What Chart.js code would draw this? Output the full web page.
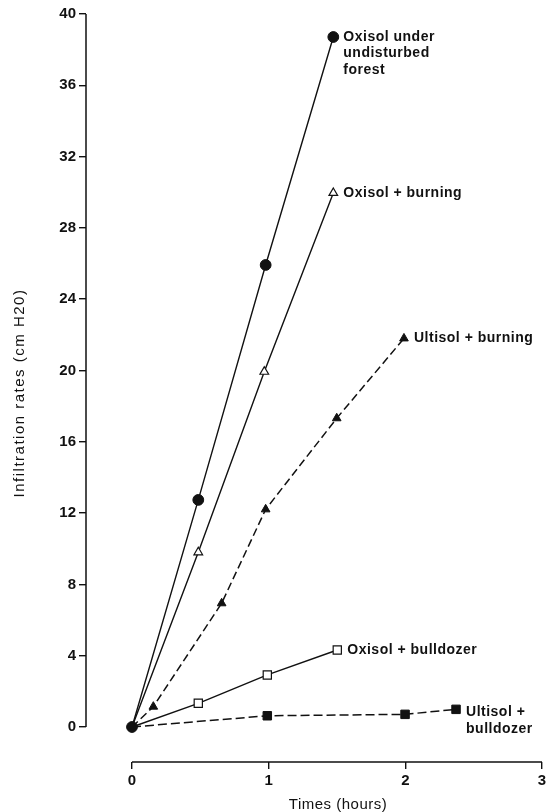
<!DOCTYPE html>
<html>
<head>
<meta charset="utf-8">
<script src="https://cdn.jsdelivr.net/npm/chart.js@4"></script>
<style>
  body { margin: 0; background: #fff; }
  canvas { display: block; }
</style>
</head>
<body>
<canvas id="chart" width="553" height="812"></canvas>
<script>
// values (time in hours, infiltration in cm H2O)
const forestX = [0, 0.485, 0.978, 1.473];
const forestY = [0, 12.74, 25.92, 38.71];
const oxBurnX = [0, 0.485, 0.968, 1.473];
const oxBurnY = [0, 9.80, 19.93, 29.96];
const ulBurnX = [0, 0.156, 0.656, 0.978, 1.498, 1.990];
const ulBurnY = [0, 1.14, 6.94, 12.21, 17.32, 21.80];
const oxDozX = [0, 0.485, 0.990, 1.502];
const oxDozY = [0, 1.33, 2.92, 4.32];
const ulDozX = [0, 0.990, 1.998, 2.371];
const ulDozY = [0, 0.63, 0.71, 0.99];

const xTicks = [0, 1, 2, 3];
const yTicks = [0, 4, 8, 12, 16, 20, 24, 28, 32, 36, 40];

const seriesLabels = [
    ['Oxisol under', 'undisturbed', 'forest'],
    ['Oxisol + burning'],
    ['Ultisol + burning'],
    ['Oxisol + bulldozer'],
    ['Ultisol +', 'bulldozer']
];

const xTitle = 'Times (hours)';
const yTitle = 'Infiltration rates (cm H20)';

const ink = '#111';
const FONT = '"Liberation Sans", Arial, Helvetica, sans-serif';

function toPoints(xs, ys) {
    return xs.map((x, i) => ({ x: x, y: ys[i] }));
}

// hide the marker at the shared origin for everything but the forest series
function skipOrigin(r) {
    return ctx => ctx.dataIndex === 0 ? 0 : r;
}

// axes in the figure are detached from the plot: draw the lines only over 0..3 / 0..40
const detachedAxes = {
    id: 'detachedAxes',
    afterDraw(chart) {
        const ctx = chart.ctx;
        const xs = chart.scales.x;
        const ys = chart.scales.y;
        const area = chart.chartArea;
        ctx.save();
        ctx.strokeStyle = ink;
        ctx.lineWidth = 1.5;
        ctx.beginPath();
        ctx.moveTo(area.left, ys.getPixelForValue(yTicks[0]));
        ctx.lineTo(area.left, ys.getPixelForValue(yTicks[yTicks.length - 1]));
        ctx.moveTo(xs.getPixelForValue(xTicks[0]), area.bottom);
        ctx.lineTo(xs.getPixelForValue(xTicks[xTicks.length - 1]), area.bottom);
        ctx.stroke();

        ctx.fillStyle = ink;

        // axis titles
        ctx.font = '15px ' + FONT;
        ctx.textAlign = 'center';
        ctx.textBaseline = 'middle';
        ctx.letterSpacing = '0.5px';
        const midX = (xs.getPixelForValue(xTicks[0]) + xs.getPixelForValue(xTicks[xTicks.length - 1])) / 2;
        ctx.fillText(xTitle, midX + 1, 805);

        ctx.save();
        ctx.translate(20, 393);
        ctx.rotate(-Math.PI / 2);
        ctx.letterSpacing = '1.5px';
        ctx.fillText(yTitle, 0, 0);
        ctx.restore();

        // end-of-line labels
        ctx.font = 'bold 14px ' + FONT;
        ctx.textAlign = 'left';
        ctx.letterSpacing = '0.5px';
        chart.data.datasets.forEach((ds, i) => {
            const last = ds.data[ds.data.length - 1];
            const px = xs.getPixelForValue(last.x) + 10;
            const py = ys.getPixelForValue(last.y);
            const lines = seriesLabels[i];
            const shift = lines.length === 2 ? 3 : 0;
            lines.forEach((t, k) => ctx.fillText(t, px, py + shift + k * 16.5));
        });
        ctx.restore();
    }
};

new Chart(document.getElementById('chart'), {
    type: 'scatter',
    data: {
        datasets: [
            {
                data: toPoints(forestX, forestY),
                showLine: true,
                borderColor: ink,
                borderWidth: 1.4,
                pointStyle: 'circle',
                pointRadius: 5.4,
                pointBackgroundColor: ink,
                pointBorderColor: ink,
                pointBorderWidth: 1
            },
            {
                data: toPoints(oxBurnX, oxBurnY),
                showLine: true,
                borderColor: ink,
                borderWidth: 1.4,
                pointStyle: 'triangle',
                pointRadius: skipOrigin(5),
                pointBackgroundColor: '#fff',
                pointBorderColor: ink,
                pointBorderWidth: 1.2
            },
            {
                data: toPoints(ulBurnX, ulBurnY),
                showLine: true,
                borderColor: ink,
                borderWidth: 1.5,
                borderDash: [8, 4],
                pointStyle: 'triangle',
                pointRadius: skipOrigin(5),
                pointBackgroundColor: ink,
                pointBorderColor: ink,
                pointBorderWidth: 1
            },
            {
                data: toPoints(oxDozX, oxDozY),
                showLine: true,
                borderColor: ink,
                borderWidth: 1.4,
                pointStyle: 'rect',
                pointRadius: skipOrigin(5.8),
                pointBackgroundColor: '#fff',
                pointBorderColor: ink,
                pointBorderWidth: 1.2
            },
            {
                data: toPoints(ulDozX, ulDozY),
                showLine: true,
                borderColor: ink,
                borderWidth: 1.5,
                borderDash: [9, 4],
                pointStyle: 'rect',
                pointRadius: skipOrigin(6),
                pointBackgroundColor: ink,
                pointBorderColor: ink,
                pointBorderWidth: 1
            }
        ]
    },
    options: {
        responsive: false,
        devicePixelRatio: 1,
        animation: false,
        layout: { padding: { left: 0, top: 14, right: 11, bottom: 0 } },
        plugins: {
            legend: { display: false },
            tooltip: { enabled: false }
        },
        scales: {
            x: {
                type: 'linear',
                min: -0.3366,
                max: 3,
                afterBuildTicks: s => { s.ticks = xTicks.map(v => ({ value: v })); },
                afterFit: s => { s.height = 50; },
                border: { display: false },
                grid: {
                    drawOnChartArea: false,
                    drawTicks: true,
                    tickLength: 7,
                    color: ink,
                    lineWidth: 1.4
                },
                ticks: {
                    color: ink,
                    padding: 3,
                    maxRotation: 0,
                    font: { family: FONT, size: 15, weight: 'bold' }
                }
            },
            y: {
                type: 'linear',
                min: -1.964,
                max: 40,
                afterBuildTicks: s => { s.ticks = yTicks.map(v => ({ value: v })); },
                afterFit: s => { s.width = 86; },
                border: { display: false },
                grid: {
                    drawOnChartArea: false,
                    drawTicks: true,
                    tickLength: 7,
                    color: ink,
                    lineWidth: 1.4
                },
                ticks: {
                    color: ink,
                    padding: 3,
                    font: { family: FONT, size: 15, weight: 'bold' }
                }
            }
        }
    },
    plugins: [detachedAxes]
});
</script>
</body>
</html>
